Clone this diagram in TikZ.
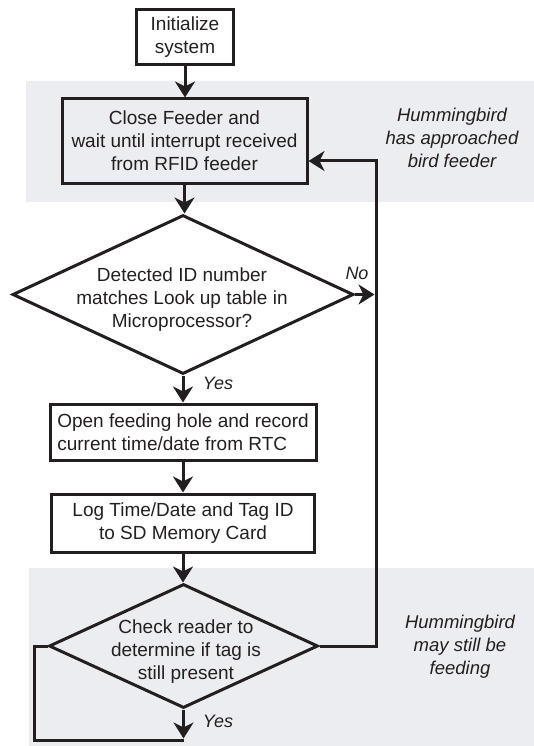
\documentclass[tikz,border=0pt]{standalone}
\usepackage{fontspec}
\setmainfont{Liberation Sans}
\usetikzlibrary{shapes.geometric,arrows.meta}
\definecolor{bandgray}{RGB}{236,237,241}
\definecolor{ink}{RGB}{35,31,32}
\tikzset{
  every node/.style={text=ink},
  boxnode/.style={draw=ink, line width=3pt, inner sep=0pt, align=center,
    font=\fontsize{19}{23}\selectfont},
  diam/.style={draw=ink, line width=3pt, diamond, inner sep=0pt},
  dtext/.style={align=center, inner sep=0pt, font=\fontsize{19}{23}\selectfont},
  note/.style={align=center, inner sep=0pt, font=\fontsize{18.5}{23}\selectfont\itshape},
  lbl/.style={inner sep=0pt, font=\fontsize{18}{22}\selectfont\itshape},
  conn/.style={draw=ink, line width=3pt},
  arr/.style={conn, -{Stealth[length=16pt,width=20pt,inset=5pt]}},
}
\begin{document}
\begin{tikzpicture}[x=1pt,y=-1pt]
\useasboundingbox (0,0) rectangle (534,746);
% background bands
\fill[bandgray] (26,81) rectangle (534,202);
\fill[bandgray] (29,568) rectangle (534,746);

% nodes
\node[boxnode, minimum width=97, minimum height=55] (init) at (185,37.5) {Initialize\\system};
\node[boxnode, minimum width=245, minimum height=84] (close) at (184.5,141)
  {Close Feeder and\\wait until interrupt received\\from RFID feeder};
\node[diam, minimum width=341, minimum height=159] (d1) at (183,294.5) {};
\node[dtext] (d1t) at (182,300) {Detected ID number\\matches Look up table in\\Microprocessor?};
\node[boxnode, minimum width=266, minimum height=56, align=left] (open) at (183,432)
  {Open feeding hole and record\\current time/date from RTC};
\node[boxnode, minimum width=263, minimum height=58] (log) at (183,523)
  {Log Time/Date and Tag ID\\to SD Memory Card};
\node[diam, minimum width=269, minimum height=124] (d2) at (183.5,646) {};
\node[dtext] (d2t) at (186,652) {Check reader to\\determine if tag is\\still present};

\node[note] (n1) at (452,138) {Hummingbird\\has approached\\bird feeder};
\node[note] (n2) at (460,647) {Hummingbird\\may still be\\feeding};

\node[lbl] (no) at (357,273) {No};
\node[lbl] (yes1) at (218,383) {Yes};
\node[lbl] (yes2) at (218,721) {Yes};

% helper coordinates
\coordinate (fbtop) at (376,161);
\coordinate (lpa) at (34,646);
\coordinate (lpb) at (34,740);
\coordinate (lpc) at (184,740);

% connectors
\draw[arr] (init.south) -- (init.south |- close.north);
\draw[arr] (close.south) -- (close.south |- d1.north);
\draw[arr] (d1.south) -- (d1.south |- open.north);
\draw[arr] (open.south) -- (open.south |- log.north);
\draw[arr] (log.south) -- (log.south |- d2.north);
\draw[arr, shorten >=1.5pt] (d1.east) -- (d1.east -| fbtop);
\draw[arr] (d2.east) -- (d2.east -| fbtop) -- (fbtop) -- (fbtop -| close.east);
\draw[conn] (d2.west) -- (lpa) -- (lpb) -- (lpc);
\draw[arr, shorten >=1.5pt] (d2.south) -- (d2.south |- lpc);
\end{tikzpicture}
\end{document}
